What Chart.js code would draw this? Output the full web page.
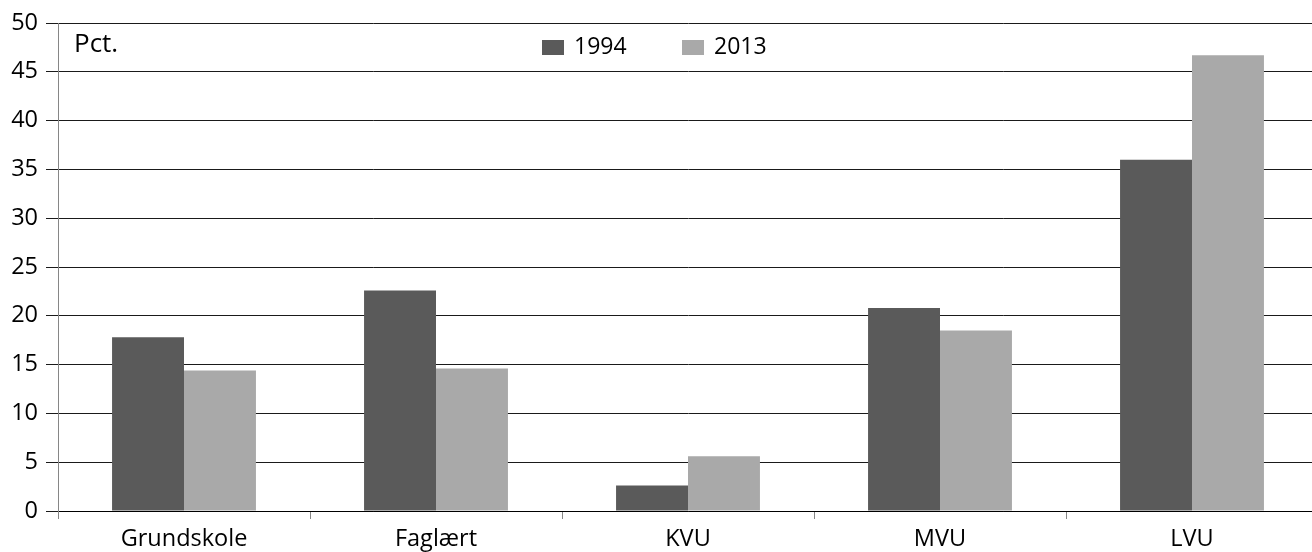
<!DOCTYPE html>
<html>
<head>
<meta charset="utf-8">
<script src="https://cdn.jsdelivr.net/npm/chart.js@4/dist/chart.umd.min.js"></script>
<style>
  html, body { margin: 0; padding: 0; background: #fff; overflow: hidden; }
  #wrap { width: 1318px; height: 552px; }
</style>
</head>
<body>
<div id="wrap"><canvas id="myChart"></canvas></div>
<script>
  // Uddannelsesniveau, pct.
  var categories = ["Grundskole", "Faglært", "KVU", "MVU", "LVU"];
  var values1994 = [17.8, 22.6, 2.6, 20.8, 36.0];
  var values2013 = [14.4, 14.6, 5.6, 18.5, 46.7];
  var seriesLabels = ["1994", "2013"];

  var FONT = "'Open Sans', sans-serif";

  // legend + "Pct." drawn inside the plot area
  var insideLegend = {
    id: "insideLegend",
    afterDraw: function (chart) {
      var ctx = chart.ctx;
      var area = chart.chartArea;
      ctx.save();
      ctx.fillStyle = "#000";
      ctx.textBaseline = "middle";
      ctx.textAlign = "left";
      ctx.font = "26px " + FONT;
      ctx.fillText("Pct.", area.left + 16, area.top + 22);

      ctx.font = "23px " + FONT;
      var x = 542;
      chart.data.datasets.forEach(function (ds) {
        ctx.fillStyle = ds.backgroundColor;
        ctx.fillRect(x, area.top + 17, 22, 15);
        ctx.fillStyle = "#000";
        ctx.fillText(ds.label, x + 32, area.top + 24);
        x += 140;
      });
      ctx.restore();
    }
  };

  var ctx = document.getElementById("myChart").getContext("2d");
  new Chart(ctx, {
    type: "bar",
    data: {
      labels: categories,
      datasets: [
        {
          label: seriesLabels[0],
          data: values1994,
          backgroundColor: "#5a5a5a",
        },
        {
          label: seriesLabels[1],
          data: values2013,
          backgroundColor: "#a9a9a9",
        },
      ],
    },
    plugins: [insideLegend],
    options: {
      responsive: true,
      maintainAspectRatio: false,
      animation: false,
      layout: { padding: { top: 23, right: 0, left: 0, bottom: 0 } },
      datasets: {
        bar: { barPercentage: 1.0, categoryPercentage: 0.571 },
      },
      plugins: {
        legend: { display: false },
        tooltip: { enabled: false },
      },
      scales: {
        x: {
          grid: {
            drawOnChartArea: false,
            drawTicks: true,
            tickLength: 8,
            color: "#868686",
            lineWidth: 1,
          },
          border: { display: true, color: "#000", width: 1 },
          ticks: {
            color: "#000",
            font: { family: FONT, size: 23.5 },
            padding: 6,
          },
          afterFit: function (scale) { scale.height = 41; },
        },
        y: {
          min: 0,
          max: 50,
          ticks: {
            stepSize: 5,
            color: "#000",
            font: { family: FONT, size: 23.5 },
            padding: 8,
          },
          grid: {
            color: "#1a1a1a",
            lineWidth: 1,
            drawTicks: true,
            tickLength: 12,
          },
          border: { display: true, color: "#868686", width: 1 },
          afterFit: function (scale) { scale.width = 58; },
        },
      },
    },
  });
</script>
</body>
</html>
